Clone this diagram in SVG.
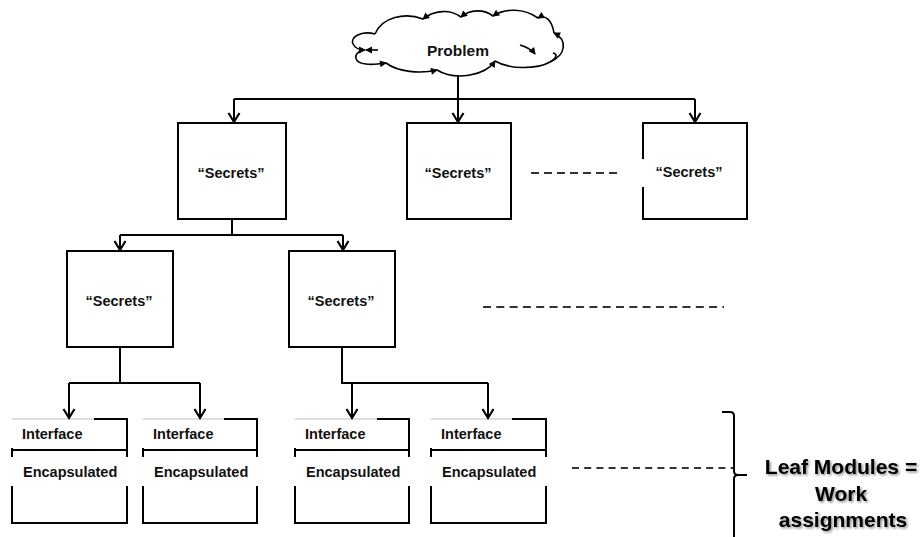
<svg xmlns="http://www.w3.org/2000/svg" width="924" height="537" viewBox="0 0 924 537">
<style>
text{font-family:"Liberation Sans",Arial,sans-serif;font-weight:bold;fill:#111}
.box{fill:#fff;stroke:#000;stroke-width:2}
.ln{fill:none;stroke:#000;stroke-width:2}
.arr{fill:none;stroke:#000;stroke-width:2;marker-end:url(#chev)}
.cl{fill:none;stroke:#000;stroke-width:1.6}
.cla{fill:none;stroke:#000;stroke-width:1.6;marker-end:url(#tri)}
.dash{fill:none;stroke:#333;stroke-width:2}
.gray{stroke:#bbb;stroke-width:1}
.s{font-size:14.5px}
.big{font-size:21px;fill:#000}
</style>
<defs>
<marker id="chev" markerUnits="userSpaceOnUse" markerWidth="20" markerHeight="20" refX="0" refY="0" orient="auto" overflow="visible">
<path d="M-9,-5.5 L0,0 L-9,5.5" fill="none" stroke="#000" stroke-width="2.2"/>
</marker>
<marker id="tri" markerUnits="userSpaceOnUse" markerWidth="12" markerHeight="12" refX="0" refY="0" orient="auto" overflow="visible">
<path d="M-6,-3.5 L1,0 L-6,3.5 Z" fill="#000"/>
</marker>
<filter id="sh" x="-10%" y="-30%" width="120%" height="160%">
<feDropShadow dx="1.5" dy="1.5" stdDeviation="1.2" flood-color="#000" flood-opacity="0.45"/>
</filter>
</defs>

<g id="problem">
<path class="cla" d="M375,34 C360,30 350,38 353,44 C355,48 359,50 365,50"/>
<path class="cla" d="M363,50 C352,54 354,63 366,64 C372,65 379,64 386,63"/>
<path class="cla" d="M386,63 C398,72 420,74 437,70"/>
<path class="cla" d="M437,70 C455,81 485,76 495,61"/>
<path class="cl" d="M495,61 C510,70 538,69 550,62 C558,57 557,54 553,53"/>
<path class="cla" d="M520,45 C527,47 532,50 535,54"/>
<path class="cla" d="M550,62 C566,55 568,40 554,33"/>
<path class="cla" d="M554,33 C552,20 545,14 538,18"/>
<path class="cla" d="M538,18 C524,8 505,8 493,16"/>
<path class="cla" d="M493,16 C484,9 470,9 461,17"/>
<path class="cla" d="M461,17 C450,9 434,10 423,19"/>
<path class="cl" d="M423,19 C405,12 382,17 375,34"/>
<path class="cla" d="M378,50 L366,50"/>
<text x="458" y="56" text-anchor="middle" style="font-size:15.5px">Problem</text>
</g>

<g id="secretsA">
<rect class="box" x="178" y="123" width="108" height="96"/>
<text class="s" x="231" y="178" text-anchor="middle">“Secrets”</text>
</g>
<g id="secretsB">
<rect class="box" x="407" y="123" width="104" height="96"/>
<text class="s" x="458" y="178" text-anchor="middle">“Secrets”</text>
</g>
<g id="secretsC">
<rect class="box" x="643" y="123" width="104" height="96"/>
<rect x="641" y="159" width="4" height="28" fill="#fff"/>
<text class="s" x="689" y="177" text-anchor="middle">“Secrets”</text>
</g>
<g id="secretsD">
<rect class="box" x="67" y="251" width="106" height="96"/>
<text class="s" x="119" y="306" text-anchor="middle">“Secrets”</text>
</g>
<g id="secretsE">
<rect class="box" x="289" y="251" width="106" height="96"/>
<text class="s" x="341" y="306" text-anchor="middle">“Secrets”</text>
</g>

<g id="leaf1">
<path class="gray" d="M12,419 H94"/>
<path class="ln" d="M94,419 H127 V457 M127,486 V523 H12 V486 M12,448 V457 M12,450 H127"/>
<text class="s" x="22" y="439">Interface</text>
<text class="s" x="23" y="477">Encapsulated</text>
</g>
<g id="leaf2">
<path class="gray" d="M143,419 H224"/>
<path class="ln" d="M224,419 H257 V457 M257,486 V523 H143 V486 M143,448 V457 M143,450 H257"/>
<text class="s" x="153" y="439">Interface</text>
<text class="s" x="154" y="477">Encapsulated</text>
</g>
<g id="leaf3">
<path class="gray" d="M295,419 H377"/>
<path class="ln" d="M377,419 H409 V457 M409,486 V523 H295 V486 M295,448 V457 M295,450 H409"/>
<text class="s" x="305" y="439">Interface</text>
<text class="s" x="306" y="477">Encapsulated</text>
</g>
<g id="leaf4">
<path class="gray" d="M431,419 H512"/>
<path class="ln" d="M512,419 H546 V457 M546,486 V523 H431 V486 M431,448 V457 M431,450 H546"/>
<text class="s" x="441" y="439">Interface</text>
<text class="s" x="442" y="477">Encapsulated</text>
</g>

<g id="connectors">
<path class="ln" d="M234,99 H695"/>
<path class="arr" d="M458,75 V122"/>
<path class="arr" d="M234,99 V122"/>
<path class="arr" d="M695,99 V122"/>
<path class="ln" d="M232,219 V235 M120,235 H343"/>
<path class="arr" d="M120,235 V250"/>
<path class="arr" d="M343,235 V250"/>
<path class="ln" d="M120,347 V383 M69,383 H200"/>
<path class="arr" d="M69,383 V418"/>
<path class="arr" d="M200,383 V418"/>
<path class="ln" d="M342,347 V383 H488"/>
<path class="arr" d="M352,383 V418"/>
<path class="arr" d="M488,383 V418"/>
</g>

<g id="ellipses">
<path class="dash" d="M531,173 H622" stroke-dasharray="8 5"/>
<path class="dash" d="M483,307 H724" stroke-dasharray="8 5.3"/>
<path class="dash" d="M572,468 H733" stroke-dasharray="7 5.2"/>
</g>

<g id="brace">
<path class="ln" d="M722,412 H730 Q734,412 734,416 V471 Q734,475 738,475 H747 M738,475 Q734,475 734,479 V537"/>
</g>

<g id="leafLabel" filter="url(#sh)">
<text class="big" x="841" y="474" text-anchor="middle">Leaf Modules =</text>
<text class="big" x="841" y="501" text-anchor="middle">Work</text>
<text class="big" x="843" y="527" text-anchor="middle">assignments</text>
</g>
</svg>
